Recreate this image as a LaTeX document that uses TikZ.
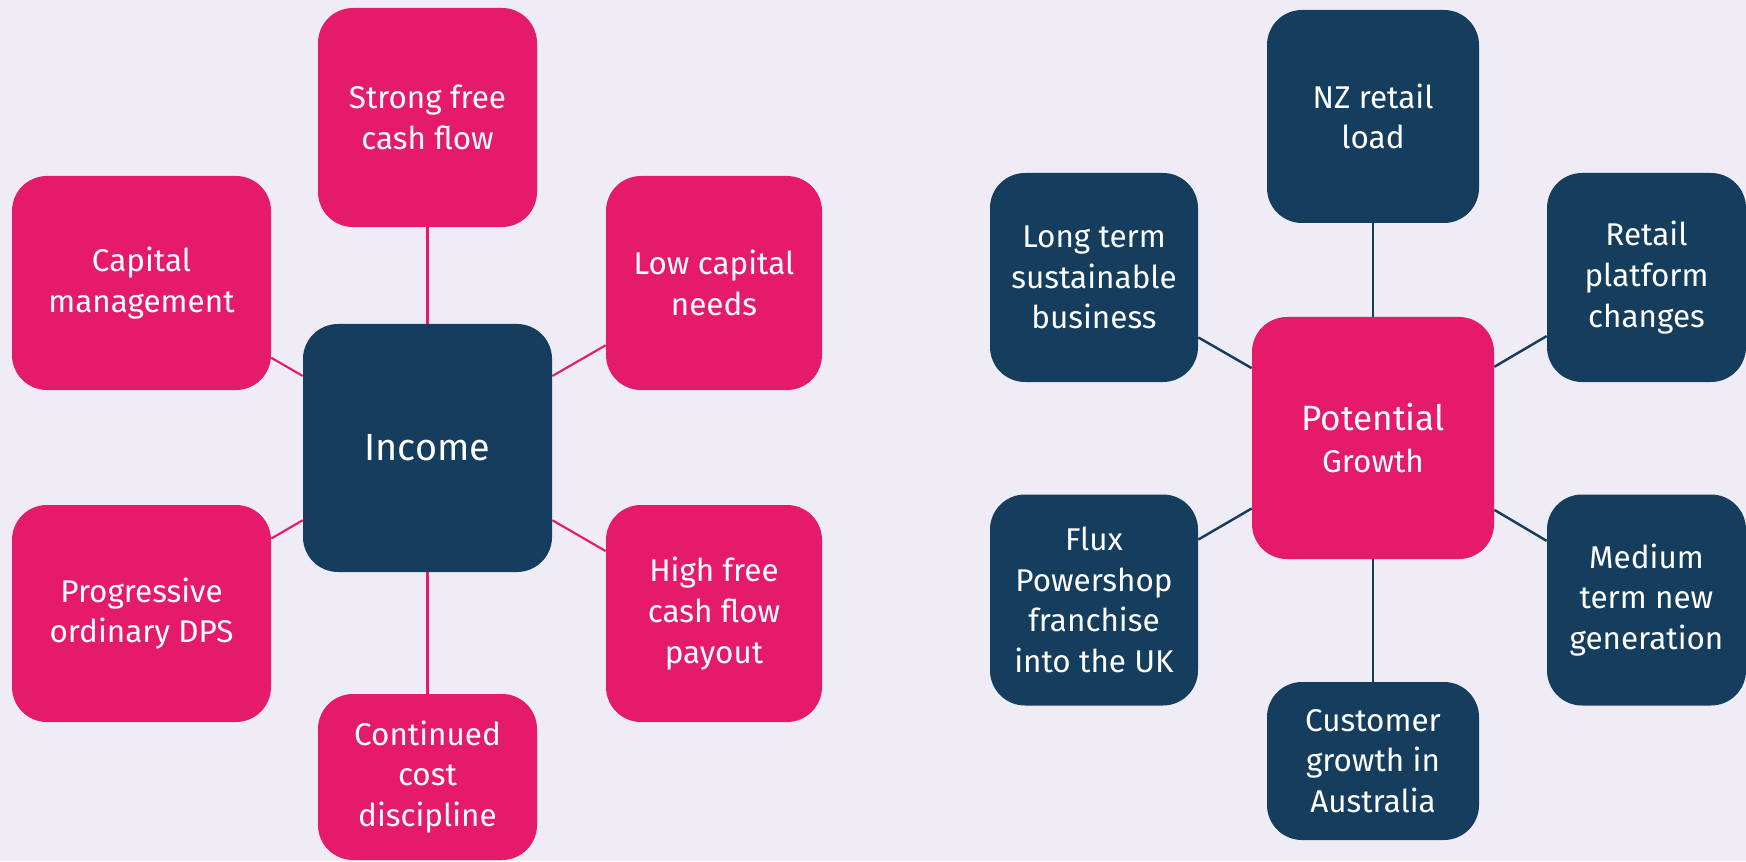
\documentclass[tikz,border=0pt]{standalone}
\usepackage{fontspec}
\setmainfont{Fira Sans}
\definecolor{pinkc}{HTML}{E51A6B}
\definecolor{navyc}{HTML}{153E5E}
\definecolor{bgc}{HTML}{EFECF5}
\begin{document}
\begin{tikzpicture}[
	box/.style={rounded corners=0.7cm, text=white, align=center, inner sep=0pt,
		font=\fontsize{17.9}{23.1}\selectfont},
	pinkbox/.style={box, fill=pinkc},
	navybox/.style={box, fill=navyc},
	pinkline/.style={draw=pinkc, line width=1.2pt},
	navyline/.style={draw=navyc, line width=1.4pt}]
				\fill [bgc] (0,0) rectangle (34.92,17.22);
				\useasboundingbox (0,0) rectangle (34.92,17.22);
				
				% income
				\node [navybox, minimum width=4.98cm, minimum height=4.96cm, font=\fontsize{21.5}{26}\selectfont] (inc) at (8.55,8.26) {Income};
				\node [pinkbox, minimum width=4.38cm, minimum height=4.38cm] (sfcf) at (8.55,14.87) {Strong free\\cash flow};
				\node [pinkbox, minimum width=5.18cm, minimum height=4.28cm] (capm) at (2.83,11.56) {Capital\\management};
				\node [pinkbox, minimum width=4.32cm, minimum height=4.28cm] (lowc) at (14.28,11.56) {Low capital\\needs};
				\node [pinkbox, minimum width=5.18cm, minimum height=4.34cm] (prog) at (2.83,4.95) {Progressive\\ordinary DPS};
				\node [pinkbox, minimum width=4.32cm, minimum height=4.34cm] (hfcf) at (14.28,4.95) {High free\\cash flow\\payout};
				\node [pinkbox, minimum width=4.38cm, minimum height=3.32cm] (ccd) at (8.55,1.68) {Continued\\cost\\discipline};
				
				\draw [pinkline] (inc) -- (sfcf);
				\draw [pinkline] (inc) -- (capm);
				\draw [pinkline] (inc) -- (lowc);
				\draw [pinkline] (inc) -- (prog);
				\draw [pinkline] (inc) -- (hfcf);
				\draw [pinkline] (inc) -- (ccd);
				
				% growth
				\node [pinkbox, minimum width=4.84cm, minimum height=4.84cm, font=\fontsize{17.9}{24}\selectfont] (pg) at (27.46,8.46) {{\fontsize{20}{24}\selectfont Potential}\\Growth};
				\node [navybox, minimum width=4.24cm, minimum height=4.26cm] (nzr) at (27.46,14.89) {NZ retail\\load};
				\node [navybox, minimum width=4.16cm, minimum height=4.18cm] (ltsb) at (21.88,11.67) {Long term\\sustainable\\business};
				\node [navybox, minimum width=3.98cm, minimum height=4.18cm] (rpc) at (32.93,11.67) {Retail\\platform\\changes};
				\node [navybox, minimum width=4.16cm, minimum height=4.22cm] (flux) at (21.88,5.22) {Flux\\Powershop\\franchise\\into the UK};
				\node [navybox, minimum width=3.98cm, minimum height=4.22cm] (mtng) at (32.93,5.22) {Medium\\term new\\generation};
				\node [navybox, minimum width=4.24cm, minimum height=3.16cm] (cga) at (27.46,2.0) {Customer\\growth in\\Australia};
				
				\draw [navyline] (pg) -- (nzr);
				\draw [navyline] (pg) -- (ltsb);
				\draw [navyline] (pg) -- (rpc);
				\draw [navyline] (pg) -- (flux);
				\draw [navyline] (pg) -- (mtng);
				\draw [navyline] (pg) -- (cga);
\end{tikzpicture}
\end{document}
